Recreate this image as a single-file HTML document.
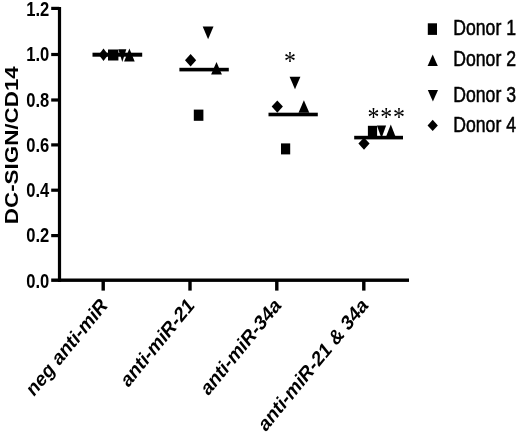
<!DOCTYPE html>
<html lang="en"><head><meta charset="utf-8"><title>DC-SIGN/CD14</title>
<style>
html,body{margin:0;padding:0;background:#fff;}
body{width:520px;height:432px;overflow:hidden;}
svg{display:block;}
text{font-family:"Liberation Sans",sans-serif;fill:#000;}
.b{font-weight:bold;}
.tk{stroke:none;}
.lg{stroke:#000;stroke-width:0.55px;}
.star{font-family:"Liberation Serif",serif;}
</style></head><body>
<svg width="520" height="432" viewBox="0 0 520 432">
<rect width="520" height="432" fill="#fff"/>
<g fill="#000" stroke="none">
<rect x="57.90" y="7" width="3.2" height="274.90"/>
<rect x="51.2" y="278.50" width="357.80" height="3.4"/>
<rect x="51.2" y="234.00" width="8" height="3.2"/>
<rect x="51.2" y="188.60" width="8" height="3.2"/>
<rect x="51.2" y="143.30" width="8" height="3.2"/>
<rect x="51.2" y="98.40" width="8" height="3.2"/>
<rect x="51.2" y="52.90" width="8" height="3.2"/>
<rect x="51.2" y="6.80" width="8" height="3.2"/>
<rect x="101.50" y="280.20" width="3.4" height="10.40"/>
<rect x="188.30" y="280.20" width="3.4" height="10.40"/>
<rect x="275.10" y="280.20" width="3.4" height="10.40"/>
<rect x="362.10" y="280.20" width="3.4" height="10.40"/>
<rect x="92.5" y="52.70" width="49.70" height="4.0"/>
<rect x="179.4" y="67.80" width="49.40" height="3.6"/>
<rect x="268.5" y="112.70" width="49.30" height="3.6"/>
<rect x="354.2" y="135.80" width="48.80" height="3.6"/>
<polygon points="103.50,48.50 108.25,54.80 103.50,61.10 98.75,54.80"/>
<rect x="108.00" y="49.50" width="10.4" height="11"/>
<polygon points="122.30,61.90 126.30,49.30 118.30,49.30"/>
<polygon points="129.40,48.40 134.70,61.40 124.10,61.40"/>
<polygon points="208.10,39.20 213.50,26.60 202.70,26.60"/>
<polygon points="190.60,54.10 196.20,60.30 190.60,66.50 185.00,60.30"/>
<polygon points="216.50,62.00 221.90,74.60 211.10,74.60"/>
<rect x="193.80" y="109.60" width="9.6" height="11.2"/>
<polygon points="295.00,89.30 300.40,76.70 289.60,76.70"/>
<polygon points="277.30,100.40 282.90,106.60 277.30,112.80 271.70,106.60"/>
<polygon points="303.90,100.20 309.30,112.80 298.50,112.80"/>
<rect x="281.00" y="143.40" width="9.2" height="11"/>
<polygon points="364.00,137.40 369.60,143.60 364.00,149.80 358.40,143.60"/>
<rect x="367.90" y="125.80" width="9.2" height="11.4"/>
<polygon points="381.50,138.20 386.10,125.60 376.90,125.60"/>
<polygon points="390.80,124.40 395.70,137.00 385.90,137.00"/>
<rect x="427.80" y="23.30" width="9.2" height="11.6"/>
<polygon points="432.70,54.50 437.80,65.90 427.60,65.90"/>
<polygon points="432.90,101.60 438.00,90.00 427.80,90.00"/>
<polygon points="432.70,119.70 437.85,125.40 432.70,131.10 427.55,125.40"/>
</g>
<text class="b tk" font-size="20.2" text-anchor="end" transform="translate(49.3,287.55) scale(0.82,1)">0.0</text>
<text class="b tk" font-size="20.2" text-anchor="end" transform="translate(49.3,242.30) scale(0.82,1)">0.2</text>
<text class="b tk" font-size="20.2" text-anchor="end" transform="translate(49.3,197.05) scale(0.82,1)">0.4</text>
<text class="b tk" font-size="20.2" text-anchor="end" transform="translate(49.3,151.80) scale(0.82,1)">0.6</text>
<text class="b tk" font-size="20.2" text-anchor="end" transform="translate(49.3,106.55) scale(0.82,1)">0.8</text>
<text class="b tk" font-size="20.2" text-anchor="end" transform="translate(49.3,61.30) scale(0.82,1)">1.0</text>
<text class="b tk" font-size="20.2" text-anchor="end" transform="translate(49.3,16.05) scale(0.82,1)">1.2</text>
<text class="b tk" font-size="22.4" text-anchor="middle" transform="translate(18.4,145.2) scale(0.82,1) rotate(-90)">DC-SIGN/CD14</text>
<text class="b tk" font-size="21.25" text-anchor="end" transform="translate(108.20,306.6) scale(0.82,1) rotate(-45)">neg anti-miR</text>
<text class="b tk" font-size="21.25" text-anchor="end" transform="translate(195.00,306.6) scale(0.82,1) rotate(-45)">anti-miR-21</text>
<text class="b tk" font-size="21.25" text-anchor="end" transform="translate(281.80,306.6) scale(0.82,1) rotate(-45)">anti-miR-34a</text>
<text class="b tk" font-size="21.25" text-anchor="end" transform="translate(368.80,306.6) scale(0.82,1) rotate(-45)">anti-miR-21 &amp; 34a</text>
<text class="lg" font-size="22.3" transform="translate(453.2,35.2) scale(0.792,1)">Donor 1</text>
<text class="lg" font-size="22.3" transform="translate(453.2,65.9) scale(0.792,1)">Donor 2</text>
<text class="lg" font-size="22.3" transform="translate(453.2,102.1) scale(0.792,1)">Donor 3</text>
<text class="lg" font-size="22.3" transform="translate(453.2,131.6) scale(0.792,1)">Donor 4</text>
<text class="star" font-size="26.5" text-anchor="middle" transform="translate(290,70.2) scale(0.9,1)">*</text>
<text class="star" font-size="26.5" text-anchor="middle" letter-spacing="1.0" transform="translate(386.7,126.3) scale(0.9,1)">***</text>
</svg></body></html>
